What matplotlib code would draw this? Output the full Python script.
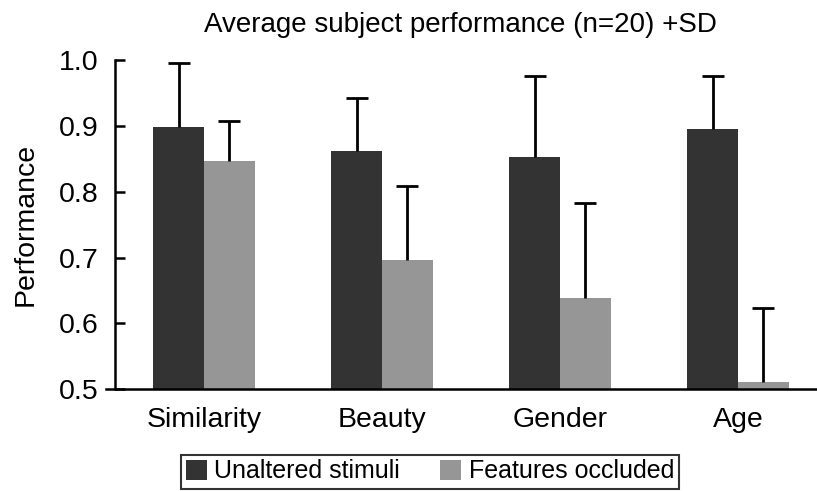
import numpy as np
import matplotlib
matplotlib.use("Agg")
import matplotlib.pyplot as plt

plt.rcParams['font.family'] = ['Liberation Sans', 'DejaVu Sans']

# data
categories = ["Similarity", "Beauty", "Gender", "Age"]
unaltered = [0.898, 0.862, 0.852, 0.895]
unaltered_sd = [0.097, 0.081, 0.123, 0.081]
occluded = [0.846, 0.696, 0.638, 0.511]
occluded_sd = [0.061, 0.113, 0.145, 0.113]

dark = "#333333"
light = "#969696"

fig = plt.figure(figsize=(8.17, 4.91), dpi=100)
ax = fig.add_axes([106 / 817, 1 - 389.3 / 491, 1 - 106 / 817, (389.3 - 60) / 491])

x = np.arange(len(categories))
w = 0.285
err_kw = dict(ecolor="black", elinewidth=2.0, capsize=8, capthick=2.0)

b1 = ax.bar(x - w / 2, unaltered, w, color=dark, label="Unaltered stimuli",
            yerr=[np.zeros(len(x)), unaltered_sd], error_kw=err_kw, zorder=2)
b2 = ax.bar(x + w / 2, occluded, w, color=light, label="Features occluded",
            yerr=[np.zeros(len(x)), occluded_sd], error_kw=err_kw, zorder=2)

# only the upper cap (+SD)
for b in (b1, b2):
    caps = b.errorbar.lines[1]
    caps[0].set_visible(False)

ax.set_ylim(0.5, 1.0)
ax.set_xlim(-0.55, 3.444)
ax.set_yticks([0.5, 0.6, 0.7, 0.8, 0.9, 1.0])
ax.set_yticklabels(["0.5", "0.6", "0.7", "0.8", "0.9", "1.0"])
ax.set_xticks(x)
ax.set_xticklabels(categories)

ax.spines["top"].set_visible(False)
ax.spines["right"].set_visible(False)
ax.spines["left"].set_position(("data", -0.5))
ax.spines["left"].set_linewidth(1.8)
ax.spines["bottom"].set_linewidth(1.8)
ax.tick_params(axis="y", direction="in", length=7, width=1.8, labelsize=20.5, pad=12)
ax.tick_params(axis="x", length=0, labelsize=20.5, pad=13)

ax.set_ylabel("Performance", fontsize=20.5, labelpad=14)
ax.set_title("Average subject performance (n=20) +SD", fontsize=20, x=0.498, pad=20.5)

leg = fig.legend(loc="lower center", bbox_to_anchor=(430 / 817, 0.0), ncol=2, fontsize=18,
                 frameon=True, fancybox=False, edgecolor="black", handlelength=0.85,
                 handleheight=0.85, handletextpad=0.3, columnspacing=1.6,
                 borderpad=0.2, borderaxespad=0.1)
leg.get_frame().set_linewidth(1.5)

fig.savefig("out.png", dpi=100)
